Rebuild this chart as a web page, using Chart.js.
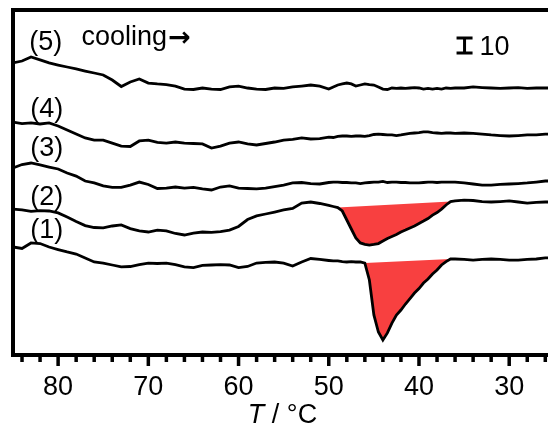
<!DOCTYPE html>
<html>
<head>
<meta charset="utf-8">
<script src="https://cdn.jsdelivr.net/npm/chart.js@4.4.1/dist/chart.umd.min.js"></script>
<style>
  html, body { margin: 0; padding: 0; background: #fff; }
</style>
</head>
<body>
<canvas id="dsc" width="548" height="427"></canvas>
<script>
// temperature grid (°C), half-degree steps around the crystallisation peaks
const temps = [85, 84, 83, 82, 81, 80, 79, 78, 77, 76, 75, 74, 73, 72, 71, 70, 69, 68, 67, 66,
  65, 64, 63, 62, 61, 60, 59, 58, 57, 56, 55, 54, 53, 52, 51,
  50, 49.5, 49, 48.5, 48, 47.5, 47, 46.5, 46, 45.5, 45, 44.5, 44, 43.5, 43, 42.5, 42, 41.5, 41,
  40.5, 40, 39.5, 39, 38.5, 38, 37.5, 37, 36.5,
  36, 35, 34, 33, 32, 31, 30, 29, 28, 27, 26, 25];

// heat flow, curves already offset (1) .. (5)
const curve1 = [72.0, 71.0, 74.7, 74.3, 72.0, 70.3, 68.7, 67.3, 64.7, 62.0, 61.3, 60.0, 58.7, 59.0, 60.3,
  61.3, 61.0, 61.3, 60.3, 58.7, 58.3, 59.7, 60.0, 60.3, 60.0, 58.3, 59.0, 61.3, 61.7, 62.0, 61.3, 59.3, 62.0, 64.3, 63.7,
  63.0, 62.7, 62.7, 62.3, 62.0, 62.3, 62.0, 62.0, 61.3, 50.0, 26.7, 15.3, 10.0, 14.7, 21.3, 26.7, 30.0, 34.0, 37.6,
  41.3, 44.3, 48.0, 50.7, 54.0, 56.7, 60.0, 62.3, 64.0,
  64.0, 63.7, 63.3, 63.7, 64.0, 63.7, 63.3, 63.3, 63.7, 64.0, 64.7, 64.7];
const curve2 = [97.3, 96.7, 95.7, 96.3, 96.0, 94.7, 92.0, 89.0, 86.3, 85.0, 84.7, 86.0, 86.7, 84.3, 82.7,
  82.0, 83.3, 82.7, 81.0, 80.0, 81.3, 82.0, 81.7, 82.3, 83.3, 85.7, 90.3, 92.7, 94.0, 95.3, 96.7, 97.7, 101.3, 102.0, 101.0,
  99.7, 99.0, 98.3, 96.0, 90.0, 84.0, 78.0, 74.7, 73.7, 73.3, 73.7, 74.3, 76.0, 77.7, 79.0, 80.3, 82.0, 83.3, 84.7,
  86.0, 87.7, 89.3, 91.0, 93.3, 95.0, 97.3, 100.0, 102.3,
  102.7, 103.3, 103.0, 102.3, 102.0, 102.3, 102.7, 102.0, 101.3, 101.7, 102.0, 102.0];
const curve3 = [124.7, 127.0, 128.0, 126.7, 125.3, 124.0, 121.3, 119.3, 116.0, 114.7, 112.7, 111.7, 111.7, 113.3, 115.3,
  113.7, 111.0, 111.3, 112.0, 111.3, 111.7, 110.7, 110.0, 112.0, 112.7, 111.3, 111.0, 110.7, 111.3, 112.3, 113.3, 114.7, 115.0, 114.3, 114.0,
  115.0, 115.3, 115.3, 115.0, 115.0, 114.7, 114.7, 114.3, 114.7, 115.0, 115.3, 115.3, 115.7, 115.0, 115.3, 115.3, 115.0, 115.0, 114.7,
  114.7, 114.7, 115.0, 115.3, 115.3, 115.0, 115.3, 115.3, 115.3,
  115.3, 114.7, 114.0, 113.3, 113.3, 113.7, 114.0, 114.3, 114.7, 115.3, 116.0, 116.0];
const curve4 = [155.3, 154.3, 154.7, 154.0, 154.7, 152.7, 150.0, 147.3, 144.7, 143.3, 143.3, 141.3, 139.3, 139.0, 142.7,
  143.3, 141.7, 141.3, 142.0, 141.3, 141.0, 140.7, 138.0, 139.3, 141.3, 142.0, 140.7, 140.0, 141.0, 142.0, 143.3, 143.7, 144.7, 144.0, 144.3,
  145.3, 145.0, 145.7, 146.0, 146.0, 145.7, 146.0, 146.0, 145.7, 146.3, 147.0, 147.3, 147.0, 146.7, 146.7, 146.3, 146.7, 147.3, 147.7,
  148.0, 148.3, 148.7, 148.7, 148.3, 148.0, 147.7, 148.0, 148.0,
  147.7, 148.0, 147.7, 147.3, 146.7, 146.3, 146.0, 146.3, 146.7, 146.7, 147.3, 147.3];
const curve5 = [194.7, 196.0, 198.7, 196.7, 194.7, 193.3, 192.0, 190.7, 189.3, 188.0, 186.7, 183.3, 179.0, 182.0, 184.0,
  181.3, 180.7, 180.3, 179.3, 177.3, 177.0, 178.0, 177.3, 177.0, 178.7, 179.3, 178.0, 177.3, 177.0, 178.0, 177.7, 178.7, 179.3, 180.0, 179.3,
  177.3, 178.7, 180.0, 180.7, 181.3, 180.7, 179.3, 180.0, 180.7, 180.3, 180.0, 178.7, 177.3, 177.0, 178.0, 177.7, 178.0, 177.7, 178.0,
  178.3, 178.0, 177.3, 177.7, 177.3, 177.7, 177.3, 178.0, 177.7,
  178.0, 178.0, 178.7, 178.3, 178.0, 177.7, 178.0, 178.3, 177.7, 178.0, 178.0, 178.0];

const curves = [curve1, curve2, curve3, curve4, curve5];
const curveLabels = ['(1)', '(2)', '(3)', '(4)', '(5)'];

// red areas: peak between two temperatures, closed by a straight baseline
const peaks = [
  { curve: curve1, from: 46, to: 36.5 },
  { curve: curve2, from: 49, to: 36.5 }
];

const xTickLabels = [80, 70, 60, 50, 40, 30];
const xTicks = [84, 82, 80, 78, 76, 74, 72, 70, 68, 66, 64, 62, 60, 58, 56, 54, 52, 50,
  48, 46, 44, 42, 40, 38, 36, 34, 32, 30, 28, 26];
const scaleBar = 10;

const FONT = '"Liberation Sans", Arial, sans-serif';
const RED = 'rgb(248, 64, 64)';

// text placed in data coordinates: left x (°C), baseline y
const notes = [
  { text: '(5)', x: 83.2, y: 203.3 },
  { text: '(4)', x: 83.1, y: 158.7 },
  { text: '(3)', x: 83.1, y: 132.7 },
  { text: '(2)', x: 83.1, y: 100.0 },
  { text: '(1)', x: 83.1, y: 78.0 },
  { text: 'cooling', x: 77.4, y: 206.7, arrow: true },
  { text: '10', x: 33.3, y: 200.0 }
];

const peakFill = {
  id: 'peakFill',
  beforeDatasetsDraw(chart) {
    const { ctx, chartArea: a, scales: { x, y } } = chart;
    ctx.save();
    ctx.beginPath();
    ctx.rect(a.left, a.top, a.right - a.left, a.bottom - a.top);
    ctx.clip();
    ctx.fillStyle = RED;
    peaks.forEach(p => {
      const i0 = temps.indexOf(p.from), i1 = temps.indexOf(p.to);
      ctx.beginPath();
      for (let i = i0; i <= i1; i++) {
        const px = x.getPixelForValue(temps[i]), py = y.getPixelForValue(p.curve[i]);
        if (i === i0) ctx.moveTo(px, py); else ctx.lineTo(px, py);
      }
      ctx.closePath();
      ctx.fill();
    });
    ctx.restore();
  }
};

const decorations = {
  id: 'decorations',
  afterDraw(chart) {
    const { ctx, chartArea: a, scales: { x, y } } = chart;
    ctx.save();
    ctx.strokeStyle = '#000';
    ctx.fillStyle = '#000';

    // frame: top, left, bottom axis
    ctx.lineWidth = 4;
    ctx.beginPath();
    ctx.moveTo(a.left - 2, a.top); ctx.lineTo(a.right, a.top);
    ctx.moveTo(a.left, a.top); ctx.lineTo(a.left, a.bottom);
    ctx.moveTo(a.left - 2, a.bottom); ctx.lineTo(a.right, a.bottom);
    ctx.stroke();

    // outward ticks, long ones at labelled values
    ctx.lineWidth = 3.5;
    ctx.beginPath();
    xTicks.forEach(v => {
      const px = x.getPixelForValue(v);
      const len = xTickLabels.includes(v) ? 11 : 7;
      ctx.moveTo(px, a.bottom); ctx.lineTo(px, a.bottom + len);
    });
    ctx.stroke();

    // scale bar
    const bx = x.getPixelForValue(34.95);
    const y0 = y.getPixelForValue(201.3), y1 = y.getPixelForValue(201.3 + scaleBar);
    ctx.lineWidth = 3;
    ctx.beginPath();
    ctx.moveTo(bx, y0); ctx.lineTo(bx, y1);
    ctx.moveTo(bx - 8, y0); ctx.lineTo(bx + 8, y0);
    ctx.moveTo(bx - 8, y1); ctx.lineTo(bx + 8, y1);
    ctx.stroke();

    // labels
    ctx.font = '27px ' + FONT;
    ctx.textAlign = 'left';
    ctx.textBaseline = 'alphabetic';
    notes.forEach(n => {
      const px = x.getPixelForValue(n.x), py = y.getPixelForValue(n.y);
      ctx.fillText(n.text, px, py);
      if (n.arrow) {
        const w = ctx.measureText(n.text).width;
        ctx.font = 'bold 27px "DejaVu Sans", sans-serif';
        ctx.fillText('\u2192', px + w + 1, py + 1);
        ctx.font = '27px ' + FONT;
      }
    });

    // axis title: italic T
    const italic = 'italic 27px ' + FONT, normal = '27px ' + FONT;
    ctx.font = italic; const wT = ctx.measureText('T').width;
    ctx.font = normal; const wR = ctx.measureText(' / \u00b0C').width;
    const cx = (a.left + a.right) / 2 + 2;
    const start = cx - (wT + wR) / 2;
    ctx.font = italic; ctx.fillText('T', start, 423);
    ctx.font = normal; ctx.fillText(' / \u00b0C', start + wT, 423);
    ctx.restore();
  }
};

new Chart(document.getElementById('dsc'), {
  type: 'line',
  data: {
    datasets: curves.map((c, k) => ({
      label: curveLabels[k],
      data: temps.map((t, i) => ({ x: t, y: c[i] })),
      borderColor: '#000',
      borderWidth: 2.8,
      pointRadius: 0,
      tension: 0,
      fill: false
    }))
  },
  options: {
    responsive: false,
    animation: false,
    layout: { autoPadding: false, padding: { left: 13, top: 10, right: 0, bottom: 0 } },
    plugins: { legend: { display: false }, tooltip: { enabled: false } },
    scales: {
      x: {
        type: 'linear',
        reverse: true,
        min: 25.7,
        max: 85,
        afterBuildTicks: s => { s.ticks = xTicks.map(v => ({ value: v })); },
        afterFit: s => { s.height = 72; s.paddingLeft = 0; s.paddingRight = 0; },
        grid: { display: false, drawTicks: false },
        border: { display: false },
        ticks: {
          autoSkip: false,
          maxRotation: 0,
          padding: 16,
          color: '#000',
          font: { size: 27, family: FONT },
          callback: v => xTickLabels.includes(v) ? String(v) : ''
        }
      },
      y: { display: false, min: 0, max: 230 }
    }
  },
  plugins: [peakFill, decorations]
});
</script>
</body>
</html>
